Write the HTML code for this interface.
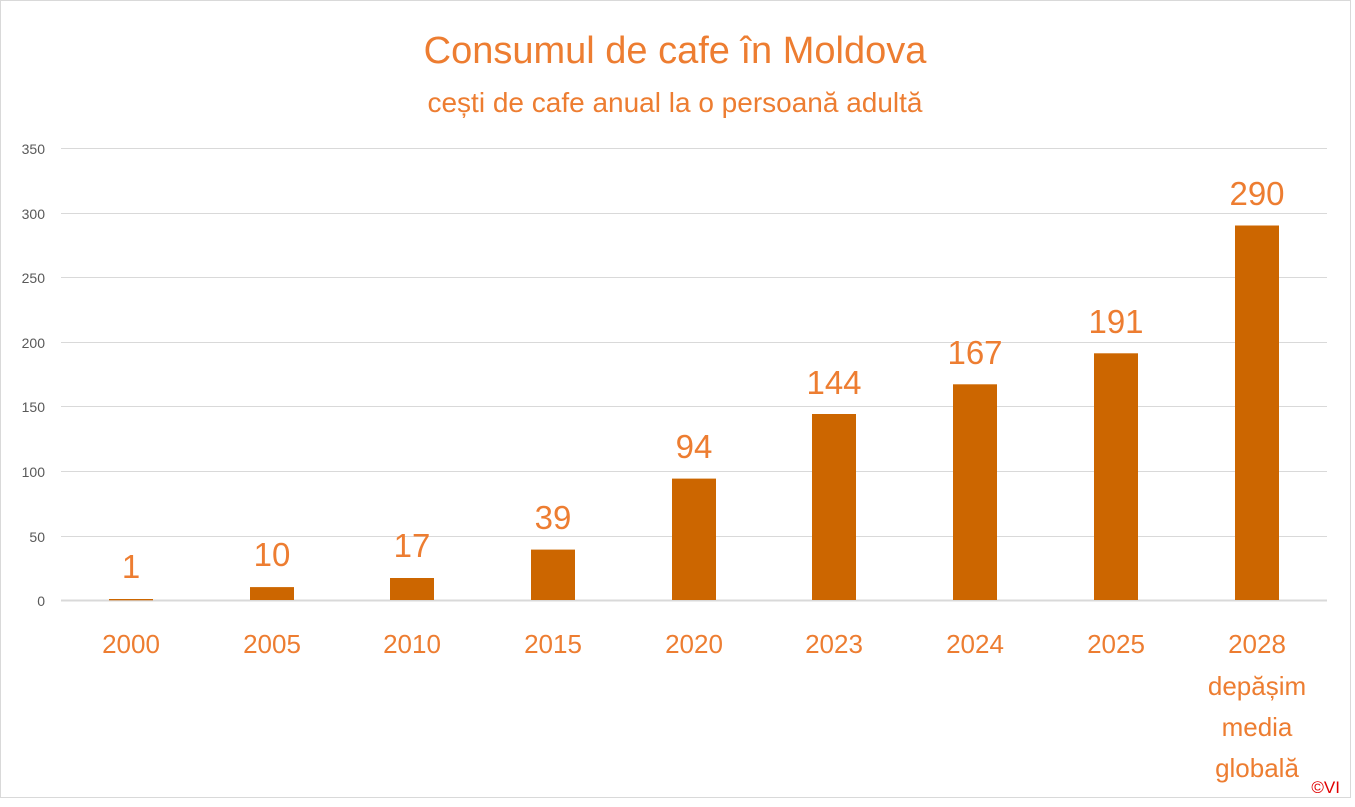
<!DOCTYPE html>
<html><head><meta charset="utf-8"><style>
html,body{margin:0;padding:0;background:#fff}
svg{display:block}
text{font-family:"Liberation Sans",sans-serif}
</style></head><body>
<svg width="1355" height="807" viewBox="0 0 1355 807">
<rect x="0.5" y="0.5" width="1350" height="797" fill="#fff" stroke="#d9d9d9"/>
<text x="675" y="63" text-anchor="middle" font-size="38" fill="#ED7D31">Consumul de cafe în Moldova</text>
<text x="675" y="112" text-anchor="middle" font-size="28" fill="#ED7D31">cești de cafe anual la o persoană adultă</text>
<g stroke="#d9d9d9" stroke-width="1">
<line x1="61" x2="1327" y1="148.5" y2="148.5"/>
<line x1="61" x2="1327" y1="213.5" y2="213.5"/>
<line x1="61" x2="1327" y1="277.5" y2="277.5"/>
<line x1="61" x2="1327" y1="342.5" y2="342.5"/>
<line x1="61" x2="1327" y1="406.5" y2="406.5"/>
<line x1="61" x2="1327" y1="471.5" y2="471.5"/>
<line x1="61" x2="1327" y1="536.5" y2="536.5"/>
<line x1="61" x2="1327" y1="600.5" y2="600.5" stroke-width="2"/>
</g>
<g font-size="14" fill="#595959" text-anchor="end">
<text x="45" y="154">350</text><text x="45" y="219">300</text><text x="45" y="283">250</text>
<text x="45" y="348">200</text><text x="45" y="412">150</text><text x="45" y="477">100</text>
<text x="45" y="542">50</text><text x="45" y="606">0</text>
</g>
<g fill="#CC6600">
<rect x="109" y="599" width="44" height="1.3"/>
<rect x="250" y="587.1" width="44" height="12.9"/>
<rect x="390" y="578.0" width="44" height="22"/>
<rect x="531" y="549.6" width="44" height="50.4"/>
<rect x="672" y="478.6" width="44" height="121.4"/>
<rect x="812" y="414.0" width="44" height="186"/>
<rect x="953" y="384.3" width="44" height="215.7"/>
<rect x="1094" y="353.3" width="44" height="246.7"/>
<rect x="1235" y="225.5" width="44" height="374.5"/>
</g>
<g font-size="33" fill="#ED7D31" text-anchor="middle">
<text x="131" y="578">1</text><text x="272" y="566">10</text><text x="412" y="557">17</text>
<text x="553" y="529">39</text><text x="694" y="458">94</text><text x="834" y="394">144</text>
<text x="975" y="364">167</text><text x="1116" y="333">191</text><text x="1257" y="205">290</text>
</g>
<g font-size="26" fill="#ED7D31" text-anchor="middle">
<text x="131" y="653">2000</text><text x="272" y="653">2005</text><text x="412" y="653">2010</text>
<text x="553" y="653">2015</text><text x="694" y="653">2020</text><text x="834" y="653">2023</text>
<text x="975" y="653">2024</text><text x="1116" y="653">2025</text><text x="1257" y="653">2028</text>
<text x="1257" y="695">depășim</text><text x="1257" y="736">media</text><text x="1257" y="777">globală</text>
</g>
<text x="1340" y="793" text-anchor="end" font-size="17" fill="#e00000">©VI</text>
</svg>
</body></html>
